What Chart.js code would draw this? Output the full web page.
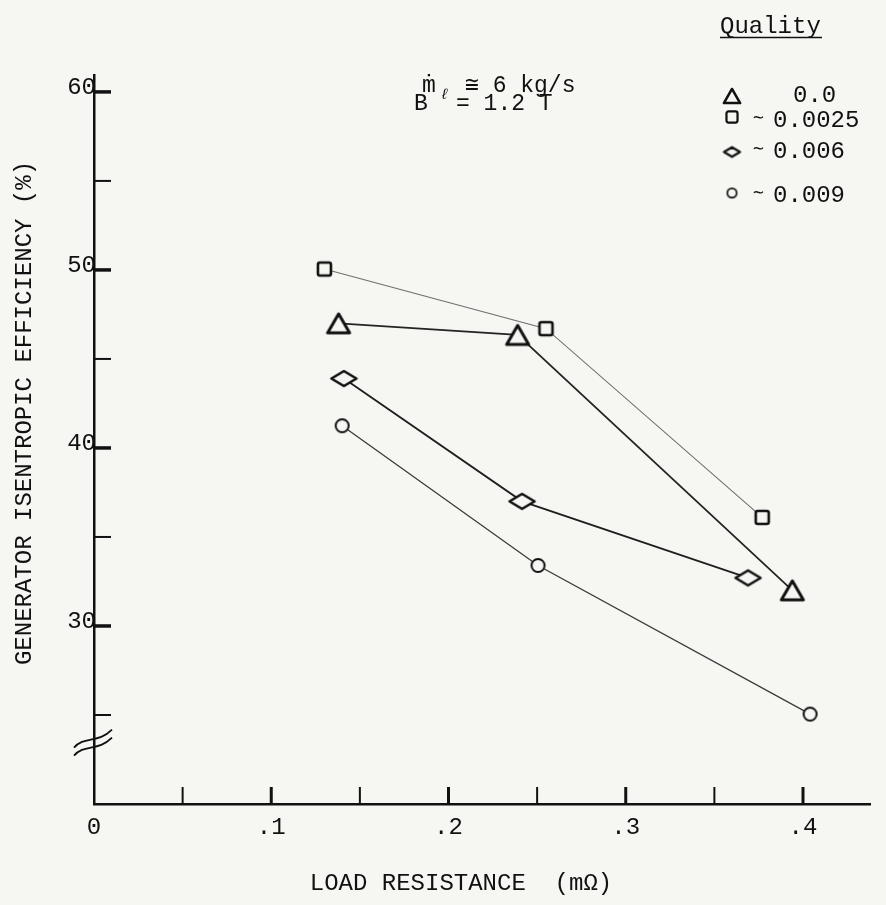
<!DOCTYPE html>
<html>
<head>
<meta charset="utf-8">
<script src="https://cdn.jsdelivr.net/npm/chart.js@4.4.1/dist/chart.umd.min.js"></script>
<style>
  html, body { margin: 0; padding: 0; background: #f6f6f3; }
  canvas { display: block; }
</style>
</head>
<body>
<canvas id="chart" width="886" height="905"></canvas>
<script>
// Load resistance (mOhm) and generator isentropic efficiency (%) per quality
const qualityLabels = ['0.0', '0.0025', '0.006', '0.009'];
const resQ0 = [0.138, 0.239, 0.394];
const effQ0 = [47.0, 46.35, 32.0];
const resQ1 = [0.130, 0.255, 0.377];
const effQ1 = [50.05, 46.7, 36.1];
const resQ2 = [0.141, 0.2415, 0.369];
const effQ2 = [43.9, 37.0, 32.7];
const resQ3 = [0.140, 0.2505, 0.404];
const effQ3 = [41.25, 33.4, 25.05];

const xTickValues = [0, 0.1, 0.2, 0.3, 0.4];
const xTickLabels = ['0', '.1', '.2', '.3', '.4'];
const yTickValues = [30, 40, 50, 60];
const yTickLabels = ['30', '40', '50', '60'];

const paper = '#f6f6f3';
const ink = '#111111';
const mono = '"Liberation Mono", "DejaVu Sans Mono", monospace';

// Hollow marker drawn on a small canvas, used as a Chart.js pointStyle
const makeMarker = (kind, k) => {
  const c = document.createElement('canvas');
  const size = { tri: [22, 19], sq: [13, 13], dia: [25, 15], circ: [13, 13] }[kind];
  const w = size[0] * k, h = size[1] * k;
  const lw = (kind === 'tri' ? 3 : kind === 'circ' ? 2 : 2.6) * Math.max(k, 0.85);
  c.width = Math.ceil(w + lw * 2);
  c.height = Math.ceil(h + lw * 2);
  const ctx = c.getContext('2d');
  const cx = c.width / 2, cy = c.height / 2;
  ctx.strokeStyle = ink;
  ctx.fillStyle = paper;
  ctx.lineWidth = lw;
  ctx.lineJoin = 'round';
  ctx.beginPath();
  if (kind === 'tri') {
    ctx.moveTo(cx, cy - h / 2);
    ctx.lineTo(cx + w / 2, cy + h / 2);
    ctx.lineTo(cx - w / 2, cy + h / 2);
    ctx.closePath();
  } else if (kind === 'sq') {
    ctx.roundRect(cx - w / 2, cy - h / 2, w, h, 2);
  } else if (kind === 'dia') {
    ctx.moveTo(cx - w / 2, cy);
    ctx.lineTo(cx, cy - h / 2);
    ctx.lineTo(cx + w / 2, cy);
    ctx.lineTo(cx, cy + h / 2);
    ctx.closePath();
  } else {
    ctx.ellipse(cx, cy, w / 2, h / 2, 0, 0, Math.PI * 2);
  }
  ctx.fill();
  ctx.stroke();
  return c;
};

const kinds = ['tri', 'sq', 'dia', 'circ'];
const plotMarkers = kinds.map(k => makeMarker(k, 1));
const legendMarkers = kinds.map((k, i) => makeMarker(k, [0.74, 0.85, 0.64, 0.72][i]));

const toPoints = (xs, ys) => xs.map((x, i) => ({ x, y: ys[i] }));

const series = [
  { xs: resQ0, ys: effQ0, color: '#242424', width: 1.8 },
  { xs: resQ1, ys: effQ1, color: '#707070', width: 1.1 },
  { xs: resQ2, ys: effQ2, color: '#1f1f1f', width: 1.8 },
  { xs: resQ3, ys: effQ3, color: '#3a3a3a', width: 1.3 },
];

const datasets = series.map((s, i) => ({
  label: qualityLabels[i],
  data: toPoints(s.xs, s.ys),
  showLine: true,
  borderColor: s.color,
  borderWidth: s.width,
  pointStyle: plotMarkers[i],
  pointRadius: 8,
  pointHoverRadius: 8,
}));

const labelFor = (values, labels, v) => {
  const i = values.findIndex(t => Math.abs(t - v) < 1e-6);
  return i < 0 ? '' : labels[i];
};

// Inward ticks, axis break, titles, notes and the hand-made legend
const paperPlugin = {
  id: 'paper',
  afterDraw(chart) {
    const { ctx, chartArea, scales: { x, y } } = chart;
    const left = chartArea.left, bottom = chartArea.bottom;
    ctx.save();
    ctx.strokeStyle = ink;
    ctx.fillStyle = ink;

    y.ticks.forEach(t => {
      if (t.value <= y.min) return;
      const py = y.getPixelForValue(t.value);
      ctx.lineWidth = yTickValues.includes(t.value) ? 3.5 : 2;
      ctx.beginPath();
      ctx.moveTo(left, py);
      ctx.lineTo(left + 17, py);
      ctx.stroke();
    });
    x.ticks.forEach(t => {
      if (t.value <= x.min) return;
      const px = x.getPixelForValue(t.value);
      ctx.lineWidth = labelFor(xTickValues, xTickLabels, t.value) ? 3 : 2;
      ctx.beginPath();
      ctx.moveTo(px, bottom);
      ctx.lineTo(px, bottom - 17);
      ctx.stroke();
    });

    // axis break
    const by = y.getPixelForValue(23.5);
    ctx.lineWidth = 1.8;
    [-4, 4].forEach(off => {
      ctx.beginPath();
      ctx.moveTo(left - 20, by + 10 + off);
      ctx.bezierCurveTo(left - 10, by - 2 + off, left + 4, by + 6 + off, left + 18, by - 8 + off);
      ctx.stroke();
    });

    // axis titles
    ctx.font = `24px ${mono}`;
    ctx.textAlign = 'center';
    ctx.textBaseline = 'middle';
    ctx.fillText('LOAD RESISTANCE  (mΩ)', 461, 884);
    ctx.save();
    ctx.translate(25, 413);
    ctx.rotate(-Math.PI / 2);
    ctx.fillText('GENERATOR ISENTROPIC EFFICIENCY (%)', 0, 0);
    ctx.restore();

    // operating conditions
    ctx.textAlign = 'left';
    ctx.textBaseline = 'alphabetic';
    ctx.font = `23px ${mono}`;
    ctx.fillText('ṁ', 422, 92);
    ctx.fillText('≅ 6 kg/s', 465, 92);
    ctx.fillText('B', 414, 110);
    ctx.fillText('= 1.2 T', 456, 110);
    ctx.font = `italic 15px ${mono}`;
    ctx.fillText('ℓ', 440, 99);

    // legend
    ctx.font = `24px ${mono}`;
    ctx.fillText('Quality', 720, 33);
    ctx.lineWidth = 1.6;
    ctx.beginPath();
    ctx.moveTo(720, 37.5);
    ctx.lineTo(822, 37.5);
    ctx.stroke();
    const markerY = [96, 117, 152, 193];
    const textY = [96, 121, 152, 196];
    ctx.textBaseline = 'middle';
    chart.data.datasets.forEach((ds, i) => {
      const m = legendMarkers[i];
      ctx.drawImage(m, 732 - m.width / 2, markerY[i] - m.height / 2);
      if (i === 0) {
        ctx.font = `24px ${mono}`;
        ctx.fillText(ds.label, 793, textY[i]);
      } else {
        ctx.font = `18px ${mono}`;
        ctx.fillText('∼', 753, textY[i] - 3);
        ctx.font = `24px ${mono}`;
        ctx.fillText(ds.label, 773, textY[i]);
      }
    });
    ctx.restore();
  }
};

new Chart(document.getElementById('chart'), {
  type: 'scatter',
  data: { datasets },
  options: {
    responsive: false,
    animation: false,
    devicePixelRatio: 1,
    layout: { padding: { left: 0, right: 16, top: 75, bottom: 0 } },
    plugins: { legend: { display: false }, tooltip: { enabled: false } },
    scales: {
      x: {
        type: 'linear',
        min: 0,
        max: 0.4378,
        afterFit: (scale) => { scale.height = 101; },
        border: { display: true, color: ink, width: 2.5 },
        grid: { display: false, drawTicks: false },
        ticks: {
          stepSize: 0.05,
          includeBounds: false,
          autoSkip: false,
          maxRotation: 0,
          padding: 9,
          color: ink,
          font: { family: mono, size: 24 },
          callback: (v) => labelFor(xTickValues, xTickLabels, v),
        },
      },
      y: {
        min: 20,
        max: 60.95,
        afterFit: (scale) => { scale.width = 94; },
        border: { display: true, color: ink, width: 2.5 },
        grid: { display: false, drawTicks: false },
        ticks: {
          stepSize: 5,
          includeBounds: false,
          autoSkip: false,
          padding: -2,
          labelOffset: -4,
          color: ink,
          font: { family: mono, size: 24 },
          callback: (v) => labelFor(yTickValues, yTickLabels, v),
        },
      },
    },
  },
  plugins: [paperPlugin],
});
</script>
</body>
</html>
